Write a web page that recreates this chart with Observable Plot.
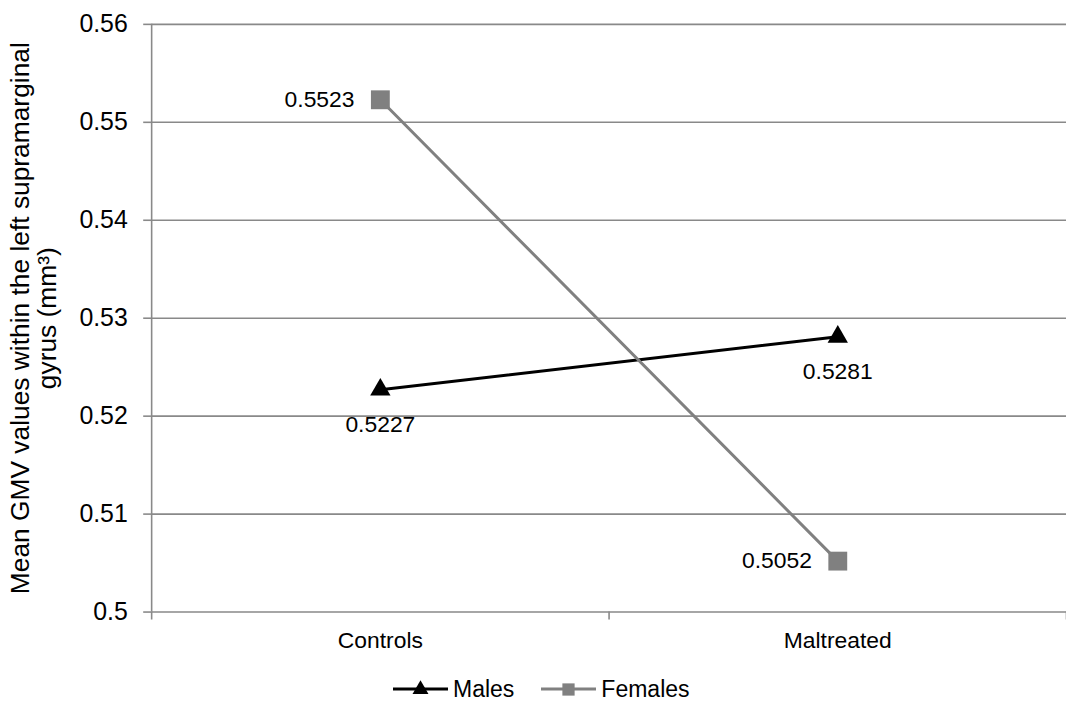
<!DOCTYPE html>
<html>
<head>
<meta charset="utf-8">
<script src="https://cdn.jsdelivr.net/npm/d3@7"></script>
<script src="https://cdn.jsdelivr.net/npm/@observablehq/plot@0.6"></script>
<style>
  html, body { margin: 0; padding: 0; background: #fff; overflow: hidden; }
  body { width: 1066px; height: 704px; font-family: "Liberation Sans", Arial, sans-serif; }
  #legend { width: 1066px; height: 34px; margin-top: 6px; padding-left: 393px; box-sizing: border-box; display: flex; justify-content: flex-start; align-items: center; font-size: 23px; color: #000; }
  .item { display: flex; align-items: center; margin-right: 27px; }
  .item svg { margin-right: 5px; }
</style>
</head>
<body>
<div id="chart"></div>
<div id="legend"></div>
<script>
const categories = ["Controls", "Maltreated"];
const seriesNames = ["Males", "Females"];
const malesValues = [0.5227, 0.5281];
const femalesValues = [0.5523, 0.5052];
const seriesColors = ["#000000", "#808080"];
const seriesSymbols = ["triangle", "square"];
const yTicks = [0.5, 0.51, 0.52, 0.53, 0.54, 0.55, 0.56];
const yTickLabels = ["0.5", "0.51", "0.52", "0.53", "0.54", "0.55", "0.56"];
const yTitle = "Mean GMV values within the left supramarginal\ngyrus (mm³)";

const rows = [];
categories.forEach((c, i) => {
  rows.push({series: "Males", cat: c, xi: i + 0.5, value: malesValues[i]});
  rows.push({series: "Females", cat: c, xi: i + 0.5, value: femalesValues[i]});
});
const males = rows.filter(d => d.series === "Males");
const females = rows.filter(d => d.series === "Females");
const grid = "#898989";
const font = "Liberation Sans, Arial, sans-serif";

const chart = Plot.plot({
  width: 1072,
  height: 670,
  marginLeft: 152,
  marginRight: 0,
  marginTop: 24,
  marginBottom: 55,
  style: {fontFamily: font, background: "#fff", color: "#000"},
  x: {domain: [0, categories.length], axis: null},
  y: {domain: [0.5, 0.56], axis: null},
  color: {domain: seriesNames, range: seriesColors},
  marks: [
    Plot.ruleY(yTicks, {stroke: grid, strokeWidth: 1.6}),
    Plot.ruleX([0], {stroke: grid, strokeWidth: 1.6}),
    Plot.axisY({ticks: yTicks, tickSize: 8, tickPadding: 16, stroke: grid, strokeWidth: 1.6, label: null,
      tickFormat: d => yTickLabels[yTicks.indexOf(d)], fontSize: 25, fill: "#000"}),
    Plot.axisX({ticks: d3.range(categories.length + 1), tickSize: 8, stroke: grid, strokeWidth: 1.6, label: null,
      tickFormat: () => ""}),
    Plot.axisX({ticks: categories.map((c, i) => i + 0.5), tickSize: 0, tickPadding: 20, label: null,
      tickFormat: d => categories[d - 0.5], fontSize: 23, fill: "#000"}),
    Plot.text([yTitle], {frameAnchor: "left", dx: -118, rotate: -90, textAnchor: "middle", lineAnchor: "middle",
      fontSize: 26.5, lineHeight: 1.02, fill: "#000"}),
    Plot.line(rows, {x: "xi", y: "value", z: "series", stroke: "series", strokeWidth: 3}),
    Plot.dot(males, {x: "xi", y: "value", symbol: "triangle", r: 7.6, fill: "series", stroke: null}),
    Plot.dot(females, {x: "xi", y: "value", symbol: "square", r: 10.7, fill: "series", stroke: null}),
    Plot.text(males, {x: "xi", y: "value", text: d => d.value.toFixed(4), dy: 35, fontSize: 23, fill: "#000"}),
    Plot.text(females, {x: "xi", y: "value", text: d => d.value.toFixed(4), dx: -26, textAnchor: "end", fontSize: 23, fill: "#000"})
  ]
});
document.getElementById("chart").appendChild(chart);

const legend = document.getElementById("legend");
seriesNames.forEach((name, i) => {
  const item = document.createElement("div");
  item.className = "item";
  const svg = d3.create("svg").attr("width", 55).attr("height", 24);
  svg.append("line").attr("x1", 0).attr("x2", 55).attr("y1", 12).attr("y2", 12)
    .attr("stroke", seriesColors[i]).attr("stroke-width", 3);
  const sym = seriesSymbols[i] === "triangle" ? d3.symbolTriangle : d3.symbolSquare;
  const size = seriesSymbols[i] === "triangle" ? 110 : 150;
  svg.append("path").attr("d", d3.symbol(sym, size)()).attr("transform", "translate(27.5,12.5)")
    .attr("fill", seriesColors[i]);
  item.appendChild(svg.node());
  const span = document.createElement("span");
  span.textContent = name;
  item.appendChild(span);
  legend.appendChild(item);
});
</script>
</body>
</html>
